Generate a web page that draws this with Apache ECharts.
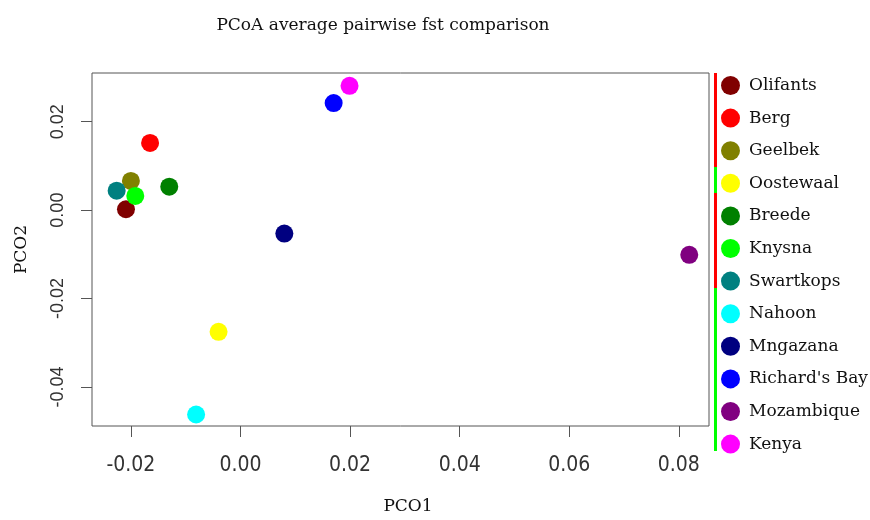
<!DOCTYPE html>
<html>
<head>
<meta charset="utf-8">
<script src="https://cdn.jsdelivr.net/npm/echarts@6/dist/echarts.min.js"></script>
<style>html,body{margin:0;padding:0;background:#fff}#c{width:870px;height:520px}</style>
</head>
<body>
<div id="c"></div>
<script>
// ---- data ----
var sites = ["Olifants","Berg","Geelbek","Oostewaal","Breede","Knysna","Swartkops","Nahoon","Mngazana","Richard's Bay","Mozambique","Kenya"];
var pco1 = [-0.0209,-0.0165,-0.0200,-0.0040,-0.0130,-0.0192,-0.0226,-0.0081,0.0080,0.0170,0.0819,0.0199];
var pco2 = [0.0002,0.0152,0.0066,-0.0275,0.0053,0.0032,0.0044,-0.0462,-0.0053,0.0242,-0.0101,0.0281];
var xTicks = [-0.02,0.00,0.02,0.04,0.06,0.08];
var yTicks = [-0.04,-0.02,0.00,0.02];
var titleText = "PCoA average pairwise fst comparison";
var xName = "PCO1", yName = "PCO2";

// ---- styles ----
var palette = ["#800000","#FF0000","#808000","#FFFF00","#008000","#00FF00","#008080","#00FFFF","#000080","#0000FF","#800080","#FF00FF"];
var serif = "'DejaVu Serif', serif";
var narrow = "'Liberation Sans Narrow','DejaVu Sans Condensed','Liberation Sans',sans-serif";

var chart = echarts.init(document.getElementById('c'), null, {renderer:'canvas'});
var series = sites.map(function(s,i){
  return {
    name: s, type: 'scatter', symbol: 'circle', symbolSize: 18,
    itemStyle: {color: palette[i], opacity: 1},
    data: [[pco1[i], pco2[i]]],
    emphasis: {disabled: true}
  };
});
chart.setOption({
  animation: false,
  backgroundColor: '#ffffff',
  title: {
    text: titleText, left: 378, top: 12, textAlign: 'center',
    textStyle: {fontFamily: serif, fontSize: 17, fontWeight: 'normal', color: '#111'}
  },
  grid: {left: 92, right: 161, top: 73, bottom: 90, show: true, borderColor: '#555', borderWidth: 1, backgroundColor: 'transparent'},
  xAxis: {
    type: 'value', min: -0.0271, max: 0.0855,
    name: xName, nameLocation: 'middle', nameGap: 72,
    nameTextStyle: {fontFamily: serif, fontSize: 17, color: '#111', padding: [0,0,0,15]},
    axisLine: {show: false, onZero: false},
    axisTick: {show: true, length: 11, lineStyle: {color: '#555'}, customValues: xTicks},
    axisLabel: {margin: 29, fontFamily: narrow, fontSize: 21, color: '#333', customValues: xTicks,
      formatter: function(v){ return v.toFixed(2); }},
    splitLine: {show: false}
  },
  yAxis: {
    type: 'value', min: -0.0488, max: 0.031,
    name: yName, nameLocation: 'middle', nameGap: 62,
    nameTextStyle: {fontFamily: serif, fontSize: 17, color: '#111', padding: [0,0,0,0]},
    axisLine: {show: false, onZero: false},
    axisTick: {show: true, length: 11, lineStyle: {color: '#555'}, customValues: yTicks},
    axisLabel: {margin: 25, rotate: 90, fontFamily: "'Liberation Sans',Arial,sans-serif", fontSize: 18, color: '#333', customValues: yTicks,
      formatter: function(v){ return v.toFixed(2); }},
    splitLine: {show: false}
  },
  legend: {
    orient: 'vertical', left: 721, top: 76, padding: 0,
    itemWidth: 19, itemHeight: 19, itemGap: 13.6, icon: 'circle',
    data: sites,
    textStyle: {fontFamily: serif, fontSize: 17, color: '#111', lineHeight: 19, padding: [0,0,0,4]},
    selectedMode: false
  },
  graphic: [
    {type:'rect', shape:{x:714, y:73, width:3, height:94}, style:{fill:'#FF0000'}, silent:true},
    {type:'rect', shape:{x:714, y:167, width:3, height:26}, style:{fill:'#00FF00'}, silent:true},
    {type:'rect', shape:{x:714, y:193, width:3, height:95}, style:{fill:'#FF0000'}, silent:true},
    {type:'rect', shape:{x:714, y:288, width:3, height:163}, style:{fill:'#00FF00'}, silent:true}
  ],
  series: series
});
</script>
</body>
</html>
